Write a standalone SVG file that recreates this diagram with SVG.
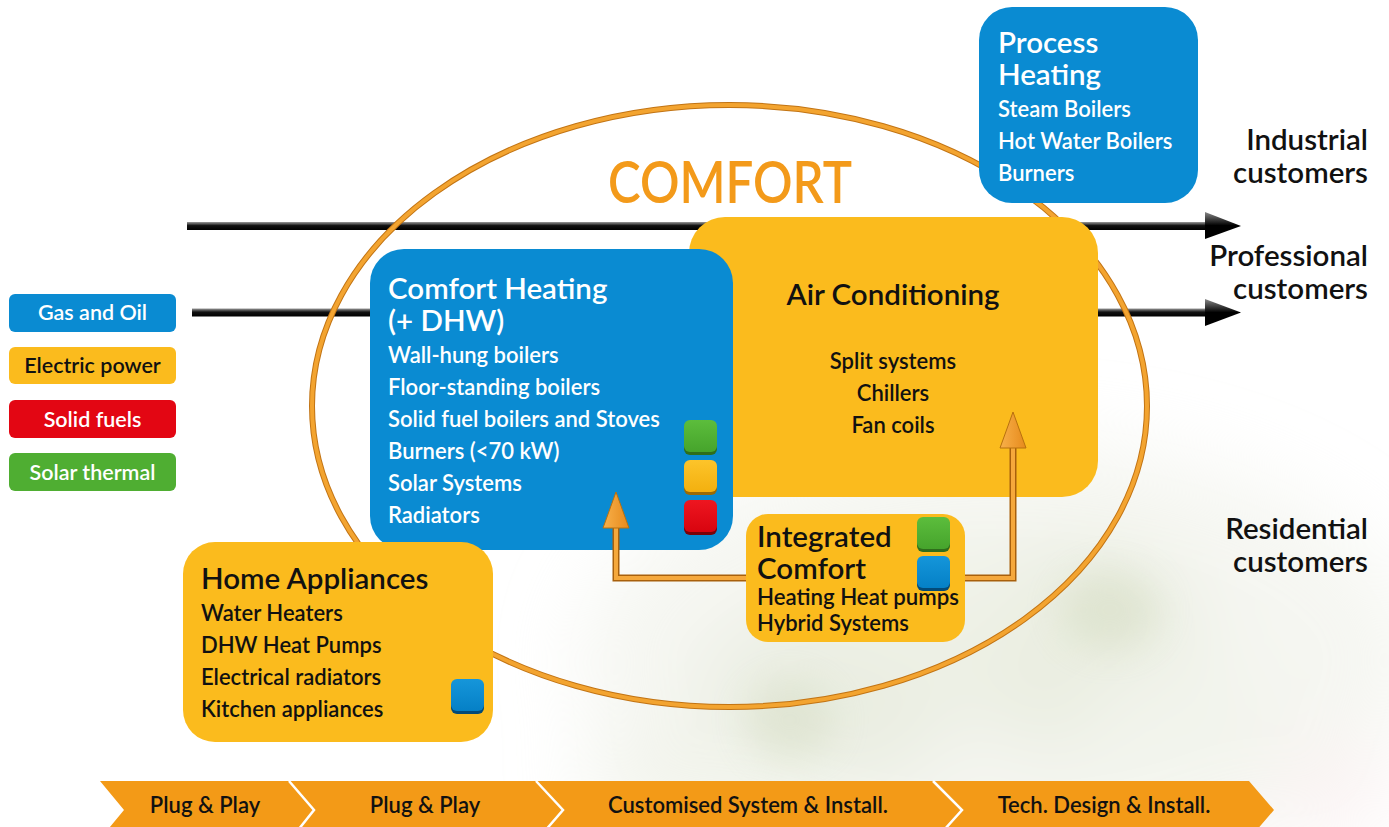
<svg xmlns="http://www.w3.org/2000/svg" width="1389" height="827" viewBox="0 0 1389 827">
<style>
.t{font-family:Lato,"Liberation Sans",sans-serif;font-weight:600}
.w{fill:#ffffff}
.k{fill:#111111}
.ttl{font-size:29.5px}
.itm{font-size:22px}
.leg{font-size:21.5px;text-anchor:middle}
.cust{font-size:29.5px;text-anchor:end;fill:#111}
.bar{font-size:22px;text-anchor:middle;fill:#111}
.blue{fill:#0a8bd2}
.yel{fill:#fbbb1d}
</style>
<defs>
<filter id="blur" x="-50%" y="-50%" width="200%" height="200%"><feGaussianBlur stdDeviation="40"/></filter>
<filter id="blur2" x="-50%" y="-50%" width="200%" height="200%"><feGaussianBlur stdDeviation="18"/></filter>
<linearGradient id="blk" x1="0" y1="0" x2="0" y2="1">
<stop offset="0" stop-color="#9a9a9a"/><stop offset="0.45" stop-color="#111"/><stop offset="1" stop-color="#000"/>
</linearGradient>
<linearGradient id="head" x1="0" y1="0" x2="0" y2="1">
<stop offset="0" stop-color="#888"/><stop offset="0.5" stop-color="#000"/><stop offset="1" stop-color="#000"/>
</linearGradient>
<linearGradient id="gG" x1="0" y1="0" x2="0" y2="1"><stop offset="0" stop-color="#5cbd3c"/><stop offset="1" stop-color="#46a42c"/></linearGradient>
<linearGradient id="gY" x1="0" y1="0" x2="0" y2="1"><stop offset="0" stop-color="#fdc42a"/><stop offset="1" stop-color="#f3b00f"/></linearGradient>
<linearGradient id="gR" x1="0" y1="0" x2="0" y2="1"><stop offset="0" stop-color="#ee1620"/><stop offset="1" stop-color="#d8040f"/></linearGradient>
<linearGradient id="gB" x1="0" y1="0" x2="0" y2="1"><stop offset="0" stop-color="#1596da"/><stop offset="1" stop-color="#0580c6"/></linearGradient>
<linearGradient id="oarr" x1="0" y1="0" x2="1" y2="0"><stop offset="0" stop-color="#f8b04a"/><stop offset="1" stop-color="#e68a1c"/></linearGradient>
</defs>

<!-- background blurred photo -->
<g id="background">
<rect width="1389" height="827" fill="#ffffff"/>
<g filter="url(#blur)" opacity="0.5">
<ellipse cx="1000" cy="660" rx="420" ry="220" fill="#eceee4"/>
<ellipse cx="830" cy="700" rx="130" ry="90" fill="#d6ddc4"/>
<ellipse cx="1080" cy="650" rx="120" ry="110" fill="#d6ddc2"/>
<ellipse cx="930" cy="610" rx="100" ry="60" fill="#e0e5d0"/>
<ellipse cx="1180" cy="730" rx="100" ry="70" fill="#e6eadb"/>
<ellipse cx="700" cy="780" rx="120" ry="50" fill="#e4e8d8"/>
<ellipse cx="1330" cy="790" rx="60" ry="50" fill="#f6e6e6"/>
</g>
<g filter="url(#blur2)" opacity="0.3">
<ellipse cx="1110" cy="610" rx="50" ry="40" fill="#c6d0ad"/>
<ellipse cx="790" cy="720" rx="45" ry="40" fill="#c8d1b0"/>
</g>
</g>

<!-- black customer arrows -->
<g id="connectors">
<rect x="187" y="222" width="1020" height="8" fill="url(#blk)"/>
<path d="M1205,212 L1241,226 L1205,239 Z" fill="url(#head)"/>
<rect x="192" y="308.5" width="1015" height="8" fill="url(#blk)"/>
<path d="M1205,299 L1241,312.5 L1205,326 Z" fill="url(#head)"/>
</g>

<!-- comfort ellipse -->
<g id="comfort-ellipse">
<ellipse cx="729.5" cy="406" rx="417.5" ry="301" fill="none" stroke="#c27414" stroke-width="6"/>
<ellipse cx="729.5" cy="406" rx="417.5" ry="301" fill="none" stroke="#f3a430" stroke-width="4"/>
<text class="t" x="730" y="203" text-anchor="middle" font-size="58" fill="#f39a1a" textLength="244" lengthAdjust="spacingAndGlyphs">COMFORT</text>
</g>

<!-- legend -->
<g id="legend-gas"><rect x="9" y="294" width="167" height="38" rx="6" class="blue"/><text class="t leg w" x="92.5" y="320">Gas and Oil</text></g>
<g id="legend-electric"><rect x="9" y="347" width="167" height="37" rx="6" class="yel"/><text class="t leg k" x="92.5" y="373">Electric power</text></g>
<g id="legend-solid"><rect x="9" y="400" width="167" height="38" rx="6" fill="#e30613"/><text class="t leg w" x="92.5" y="427">Solid fuels</text></g>
<g id="legend-solar"><rect x="9" y="453" width="167" height="38" rx="6" fill="#4fae32"/><text class="t leg w" x="92.5" y="480">Solar thermal</text></g>

<!-- Process Heating -->
<g id="process-heating">
<rect x="979" y="7" width="219" height="196" rx="33" class="blue"/>
<text class="t ttl w" x="998" y="53">Process</text>
<text class="t ttl w" x="998" y="85">Heating</text>
<text class="t itm w" x="998" y="117">Steam Boilers</text>
<text class="t itm w" x="998" y="149">Hot Water Boilers</text>
<text class="t itm w" x="998" y="181">Burners</text>
</g>

<!-- Air Conditioning -->
<g id="air-conditioning">
<rect x="689" y="217" width="409" height="280" rx="36" class="yel"/>
<text class="t k" x="893" y="305" font-size="29.5" text-anchor="middle">Air Conditioning</text>
<text class="t itm k" x="893" y="369" text-anchor="middle">Split systems</text>
<text class="t itm k" x="893" y="401" text-anchor="middle">Chillers</text>
<text class="t itm k" x="893" y="433" text-anchor="middle">Fan coils</text>
</g>

<!-- Comfort Heating -->
<g id="comfort-heating">
<rect x="370" y="249" width="363" height="301" rx="34" class="blue"/>
<text class="t ttl w" x="388" y="299">Comfort Heating</text>
<text class="t ttl w" x="388" y="331">(+ DHW)</text>
<text class="t itm w" x="388" y="363">Wall-hung boilers</text>
<text class="t itm w" x="388" y="395">Floor-standing boilers</text>
<text class="t itm w" x="388" y="427">Solid fuel boilers and Stoves</text>
<text class="t itm w" x="388" y="459">Burners (&lt;70 kW)</text>
<text class="t itm w" x="388" y="491">Solar Systems</text>
<text class="t itm w" x="388" y="523">Radiators</text>
<rect x="684" y="422" width="33" height="33" rx="6" fill="#2f6e1c"/>
<rect x="684" y="420" width="33" height="32" rx="6" fill="url(#gG)"/>
<rect x="684" y="462" width="33" height="33" rx="6" fill="#9a6a06"/>
<rect x="684" y="460" width="33" height="32" rx="6" fill="url(#gY)"/>
<rect x="684" y="502" width="33" height="33" rx="6" fill="#7a0208"/>
<rect x="684" y="500" width="33" height="32" rx="6" fill="url(#gR)"/>
</g>

<!-- orange connectors from Integrated Comfort -->
<g id="orange-connectors">
<path d="M746,578 L616,578 L616,522" fill="none" stroke="#a8600c" stroke-width="7"/>
<path d="M746,578 L616,578 L616,522" fill="none" stroke="#f5a83c" stroke-width="4"/>
<path d="M603,528 L616,492 L629,528 Z" fill="url(#oarr)" stroke="#b8700e" stroke-width="1"/>
<path d="M965,578 L1013,578 L1013,442" fill="none" stroke="#a8600c" stroke-width="7"/>
<path d="M965,578 L1013,578 L1013,442" fill="none" stroke="#f5a83c" stroke-width="4"/>
<path d="M1000,448 L1013,412 L1026,448 Z" fill="url(#oarr)" stroke="#b8700e" stroke-width="1"/>
</g>

<!-- Integrated Comfort -->
<g id="integrated-comfort">
<rect x="746" y="514" width="219" height="128" rx="22" class="yel"/>
<text class="t ttl k" x="757" y="547">Integrated</text>
<text class="t ttl k" x="757" y="579">Comfort</text>
<text class="t itm k" x="757" y="605" textLength="202" lengthAdjust="spacingAndGlyphs">Heating Heat pumps</text>
<text class="t itm k" x="757" y="631">Hybrid Systems</text>
<rect x="917" y="519" width="33" height="33" rx="6" fill="#2f6e1c"/>
<rect x="917" y="517" width="33" height="32" rx="6" fill="url(#gG)"/>
<rect x="917" y="558" width="33" height="33" rx="6" fill="#034a78"/>
<rect x="917" y="556" width="33" height="32" rx="6" fill="url(#gB)"/>
</g>

<!-- Home Appliances -->
<g id="home-appliances">
<rect x="183" y="542" width="310" height="200" rx="32" class="yel"/>
<text class="t ttl k" x="201" y="589">Home Appliances</text>
<text class="t itm k" x="201" y="621">Water Heaters</text>
<text class="t itm k" x="201" y="653">DHW Heat Pumps</text>
<text class="t itm k" x="201" y="685">Electrical radiators</text>
<text class="t itm k" x="201" y="717">Kitchen appliances</text>
<rect x="451" y="681" width="33" height="33" rx="6" fill="#034a78"/>
<rect x="451" y="679" width="33" height="32" rx="6" fill="url(#gB)"/>
</g>

<!-- customer labels -->
<g id="customer-labels">
<text class="t cust" x="1368" y="150">Industrial</text>
<text class="t cust" x="1368" y="183">customers</text>
<text class="t cust" x="1368" y="266">Professional</text>
<text class="t cust" x="1368" y="299">customers</text>
<text class="t cust" x="1368" y="539">Residential</text>
<text class="t cust" x="1368" y="572">customers</text>
</g>

<!-- bottom process bar -->
<g id="process-bar">
<path d="M100,781 L1249,781 L1274,810 L1249,839 L100,839 L124,810 Z" fill="#f39a17"/>
<path d="M289,781 L314,810 L291,839" fill="none" stroke="#ffffff" stroke-width="2.5"/>
<path d="M536,781 L563,810 L538,839" fill="none" stroke="#ffffff" stroke-width="2.5"/>
<path d="M933,781 L962,810 L936,839" fill="none" stroke="#ffffff" stroke-width="2.5"/>
<text class="t bar" x="205" y="813">Plug &amp; Play</text>
<text class="t bar" x="425" y="813">Plug &amp; Play</text>
<text class="t bar" x="748" y="813">Customised System &amp; Install.</text>
<text class="t bar" x="1104" y="813">Tech. Design &amp; Install.</text>
</g>
</svg>
